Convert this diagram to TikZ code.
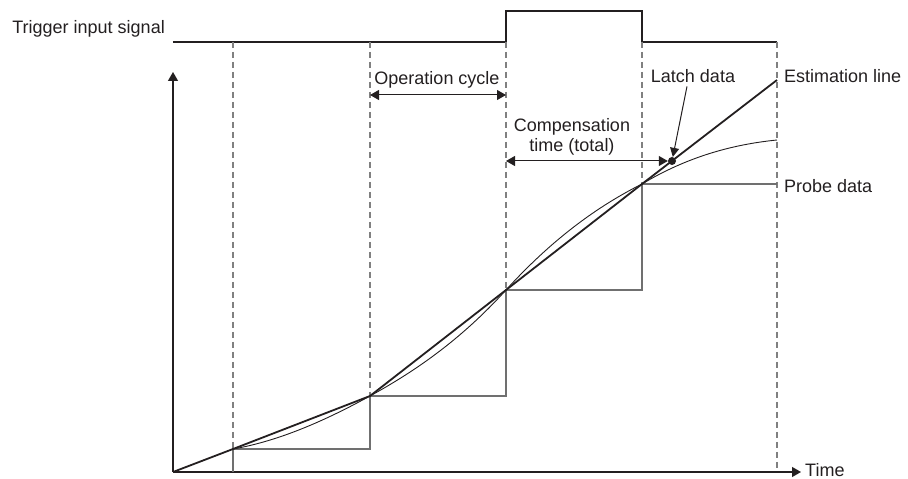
\documentclass[tikz,border=0pt]{standalone}
\usepackage{fontspec}
\setmainfont{Liberation Sans}
\usetikzlibrary{arrows.meta}

\definecolor{ink}{HTML}{231F20}
\definecolor{guidegray}{HTML}{808080}
\definecolor{stepgray}{HTML}{707070}

\tikzset{
    lbl/.style={inner sep=0pt, text=ink, font=\fontsize{18}{20}\selectfont},
    axisline/.style={draw=ink, line width=1.3pt, -{Triangle[length=9pt,width=10pt]}},
    dimline/.style={draw=ink, line width=1pt, {Triangle[length=9pt,width=10pt]}-{Triangle[length=9pt,width=10pt]}},
    ptrline/.style={draw=ink, line width=1pt, -{Triangle[length=9pt,width=9pt]}},
    guide/.style={draw=guidegray, line width=1.2pt, dash pattern=on 6pt off 4pt},
    probe/.style={draw=stepgray, line width=1.4pt},
}

\begin{document}
\begin{tikzpicture}[x=1pt,y=1pt]
    \useasboundingbox (-173,-7) rectangle (735,472);

    % Sample points
    \coordinate (p0) at (0,0);
    \coordinate (p1) at (60,23);
    \coordinate (p2) at (197,76);
    \coordinate (p3) at (333,182);
    \coordinate (p4) at (469,288);
    \coordinate (p5) at (604,392);
    \coordinate (c5) at (604,332);

    % Trigger signal
    \draw[ink, line width=1.4pt] (0,430) -- (333,430) -- (333,461) -- (469,461) -- (469,430) -- (604,430);
    \node[lbl, anchor=base east] (trig) at (-8,438) {Trigger input signal};

    % Operation cycles
    \foreach \u/\v in {60/23,197/76,333/182,469/288,604/0} \draw[guide] (\u,430) -- (\u,\v);

    % Axes
    \draw[axisline] (p0) -- (0,400);
    \draw[axisline] (p0) -- (628,0);
    \node[lbl, anchor=base west] (time) at (632,-5) {Time};

    % Probe data
    \draw[probe] (60,0) -- (p1) -| (p2) -| (p3) -| (p4) -- (604,288);
    \node[lbl, anchor=base west] (probelbl) at (611,279) {Probe data};

    % Actual position
    \draw[ink, line width=0.9pt] (p1)
        .. controls (105.7,31) and (151.3,50.9) .. (p2)
        .. controls (242.3,100.9) and (287.7,132.1) .. (p3)
        .. controls (378.3,231.9) and (423.7,265.3) .. (p4)
        .. controls (514,315) and (559,327.5) .. (c5);

    % Estimation line
    \draw[ink, line width=1.8pt] (p0) -- (p1) -- (p2) -- (p3) -- (p4) -- (p5);
    \node[lbl, anchor=base west] (estlbl) at (611,389) {Estimation line};

    % Latch data
    \node[circle, fill=ink, inner sep=0pt, minimum size=8pt] (latch) at (499,311) {};
    \node[lbl, anchor=base] (latchlbl) at (520,389) {Latch data};
    \draw[ptrline] ([xshift=-6pt,yshift=-3pt]latchlbl.south) -- (latch);

    % Time spans
    \coordinate (op1) at (197,377);
    \coordinate (op2) at (333,377);
    \draw[dimline] (op1) -- (op2);
    \node[lbl, anchor=base] (oplbl) at (264,387) {Operation cycle};

    \coordinate (cmp1) at (333,311);
    \draw[dimline] (cmp1) -- (latch);
    \node[lbl, align=center] (cmplbl) at (399,335) {Compensation\\time (total)};
\end{tikzpicture}
\end{document}
